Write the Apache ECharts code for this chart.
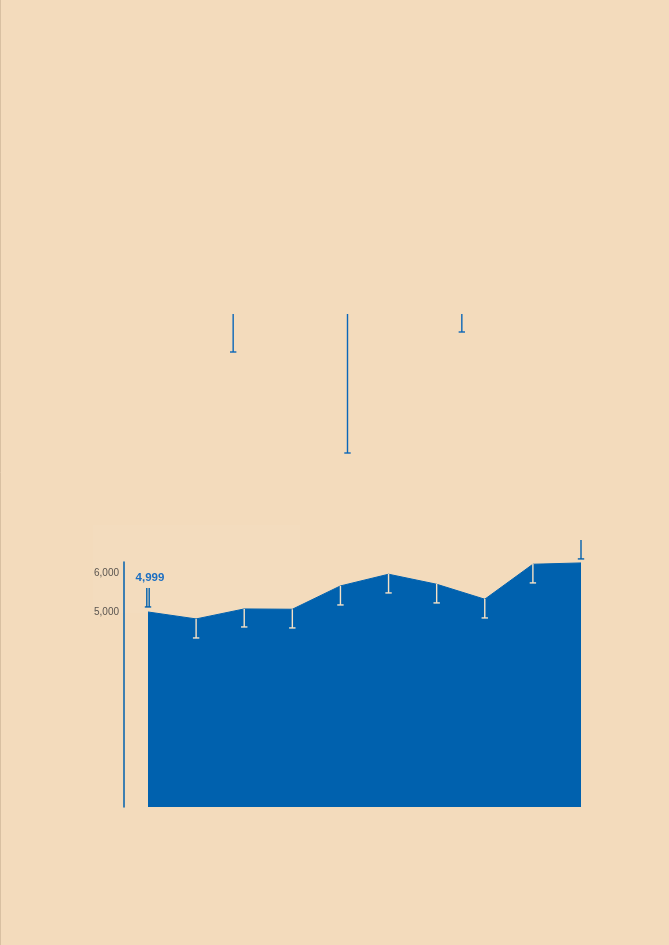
<!DOCTYPE html>
<html><head><meta charset="utf-8">
<script src="https://cdn.jsdelivr.net/npm/echarts@6/dist/echarts.min.js"></script>
<style>html,body{margin:0;padding:0;background:#F3DBBC;} #c{width:669px;height:945px;}</style>
</head><body><div id="c"></div>
<script>
// ---- data ----
const categories = ['1','2','3','4','5','6','7','8','9','10'];
const values  = [4999, 4821, 5077, 5069, 5667, 5967, 5710, 5326, 6223, 6256];
const errHigh = [5615, 4821, 5077, 5069, 5667, 5974, 5718, 5333, 6231, 6846];
const errLow  = [5128, 4333, 4615, 4590, 5179, 5487, 5231, 4846, 5744, 6359];
const yTickLabels = [5000, 6000];
const upperCategories = ['A','B','C'];
const upperValues = [38, 139, 18];

const BLUE = '#0061AE';
const LIGHT = '#F6E2C6';

const chart = echarts.init(document.getElementById('c'), null, {renderer:'canvas'});

function errItem(params, api) {
  const i = params.dataIndex;
  const x = api.coord([i, api.value(1)])[0];
  const yHi = api.coord([i, api.value(1)])[1];
  const yLo = api.coord([i, api.value(2)])[1];
  const outside = api.value(2) >= values[i];
  const color = outside ? BLUE : LIGHT;
  const st = {stroke: color, lineWidth: 1.4};
  const ch = [];
  if (i === 0) {
    ch.push({type:'line', shape:{x1:x-1.2,y1:yHi,x2:x-1.2,y2:yLo}, style:st});
    ch.push({type:'line', shape:{x1:x+1.2,y1:yHi,x2:x+1.2,y2:yLo}, style:st});
    ch.push({type:'text', x:x+2, y:yHi-4, style:{text: values[i].toLocaleString('en-US'), fill:'#1B6EC2', font:'bold 11.5px "Liberation Sans", Arial, sans-serif', align:'center', verticalAlign:'bottom'}});
  } else {
    ch.push({type:'line', shape:{x1:x,y1:yHi,x2:x,y2:yLo}, style:st});
  }
  ch.push({type:'line', shape:{x1:x-3.2,y1:yLo,x2:x+3.2,y2:yLo}, style:st});
  return {type:'group', children:ch};
}

function upperItem(params, api) {
  const i = params.dataIndex;
  const p0 = api.coord([i, 0]);
  const p1 = api.coord([i, api.value(1)]);
  const st = {stroke: '#0A66B8', lineWidth: 1.4};
  return {type:'group', children:[
    {type:'line', shape:{x1:p0[0],y1:p0[1],x2:p1[0],y2:p1[1]}, style:st},
    {type:'line', shape:{x1:p1[0]-3.2,y1:p1[1],x2:p1[0]+3.2,y2:p1[1]}, style:st}
  ]};
}

chart.setOption({
  backgroundColor: '#F3DBBC',
  animation: false,
  graphic: [
    {type:'rect', shape:{x:93, y:525, width:207, height:88}, style:{fill:'rgba(255,255,255,0.045)'}, z:-1},
    {type:'line', shape:{x1:0.5,y1:0,x2:0.5,y2:945}, style:{stroke:'#D8C0A2', lineWidth:1}}
  ],
  grid: [
    {left:148, right:88, top:562, bottom:138},
    {left:176, right:150, top:314, height:150}
  ],
  xAxis: [
    {type:'category', gridIndex:0, data:categories, boundaryGap:false, show:false},
    {type:'category', gridIndex:1, data:upperCategories, boundaryGap:true, show:false}
  ],
  yAxis: [
    {type:'value', gridIndex:0, min:0, max:6280, interval:1000, offset:24,
     axisLine:{show:true, lineStyle:{color:BLUE, width:1.5}},
     axisTick:{show:false}, splitLine:{show:false},
     axisLabel:{margin:5, color:'#5a5550', fontSize:10, fontFamily:'"Liberation Sans", Arial, sans-serif',
       formatter: v => yTickLabels.includes(v) ? v.toLocaleString('en-US') : ''}},
    {type:'value', gridIndex:1, min:0, max:150, inverse:true, show:false}
  ],
  series: [
    {type:'line', xAxisIndex:0, yAxisIndex:0, data:values, symbol:'none',
     lineStyle:{color:BLUE, width:1}, areaStyle:{color:BLUE, opacity:1}, z:2},
    {type:'custom', xAxisIndex:0, yAxisIndex:0, clip:false, z:5,
     data: categories.map((c,i)=>[i, errHigh[i], errLow[i]]),
     renderItem: errItem},
    {type:'custom', xAxisIndex:1, yAxisIndex:1, clip:false, z:5,
     data: upperCategories.map((c,i)=>[i, upperValues[i]]),
     renderItem: upperItem}
  ]
});
</script></body></html>
